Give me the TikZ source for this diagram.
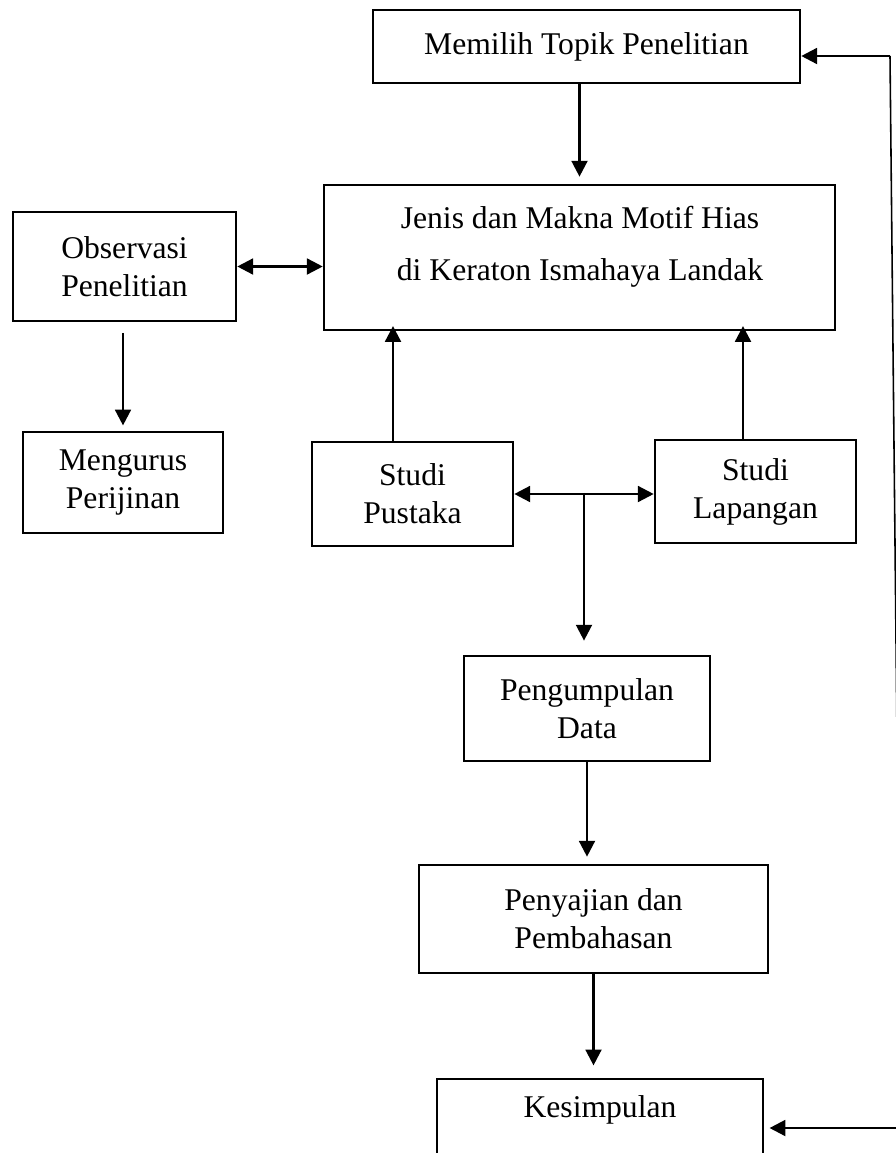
\documentclass[tikz,border=0pt]{standalone}
\usepackage{fontspec}
\setmainfont{Liberation Serif}
\usetikzlibrary{arrows.meta, calc, positioning}

\begin{document}
\begin{tikzpicture}[x=0.02cm, y=-0.02cm, >={Triangle[length=9pt, width=9pt]},
    box/.style={draw, line width=1.5pt, align=center, inner sep=0pt, font=\fontsize{18}{21.6}\selectfont},
    teks/.style={align=center, inner sep=0pt, font=\fontsize{18}{21.6}\selectfont},
    flow/.style={->, line width=1.4pt}]
    \clip (0,0) rectangle (896,1153);

    % Topik dan fokus penelitian
    \node[box, minimum width=8.54cm, minimum height=1.46cm] (memilih) at (586.5,46.5) {Memilih Topik Penelitian};
    \node[box, minimum width=10.22cm, minimum height=2.9cm] (jenis) at (579.5,257.5) {};
    \node[teks] (jenistext) at (580,247) {Jenis dan Makna Motif Hias\\[8pt] di Keraton Ismahaya Landak};

    % Persiapan
    \node[box, minimum width=4.46cm, minimum height=2.18cm] (observasi) at (124.5,266.5) {Observasi\\Penelitian};
    \node[box, minimum width=4cm, minimum height=2.02cm] (mengurus) at (123,482.5) {Mengurus\\Perijinan};

    % Studi
    \node[box, minimum width=4.02cm, minimum height=2.08cm] (pustaka) at (412.5,494) {Studi\\Pustaka};
    \node[box, minimum width=4.02cm, minimum height=2.06cm] (lapangan) at (755.5,491.5) {Studi\\Lapangan};

    % Tahap akhir
    \node[box, minimum width=4.92cm, minimum height=2.1cm] (pengumpulan) at (587,708.5) {Pengumpulan\\Data};
    \node[box, minimum width=6.98cm, minimum height=2.16cm] (penyajian) at (593.5,919) {Penyajian dan\\Pembahasan};
    \node[box, minimum width=6.52cm, minimum height=2cm] (kesimpulan) at (600,1129) {};
    \node[teks] (kesimpulantext) at (600,1110) {Kesimpulan};

    % Panah
    \draw[flow, shorten >=4pt] (memilih.south -| jenis.north) -- (jenis.north);
    \draw[<->, line width=1.4pt] (observasi.east) -- (observasi.east -| jenis.west);
    \draw[flow, shorten <=6pt, shorten >=3pt] (observasi.south -| mengurus.north) -- (mengurus.north);
    \draw[flow, shorten >=-3pt] ([xshift=-0.39cm]pustaka.north) -- ([xshift=-0.39cm]pustaka.north |- jenis.south);
    \draw[flow, shorten >=-3pt] ([xshift=-0.25cm]lapangan.north) -- ([xshift=-0.25cm]lapangan.north |- jenis.south);
    \draw[<->, line width=1.4pt] (pustaka.east) -- (pustaka.east -| lapangan.west);
    \coordinate (cabang) at ($(pustaka.east)!0.5!(lapangan.west)$);
    \draw[flow, shorten >=8pt] (cabang) -- (cabang |- pengumpulan.north);
    \draw[flow, shorten >=4pt] (pengumpulan.south) -- (pengumpulan.south |- penyajian.north);
    \draw[flow, shorten >=7pt] (penyajian.south) -- (penyajian.south |- kesimpulan.north);

    % Garis balik di kanan
    \coordinate (balikatas) at (890,56);
    \coordinate (balikbawah) at (901,1128);
    \draw[line width=0.9pt] (balikbawah) -- (balikatas);
    \draw[flow] (balikatas) -- (balikatas -| memilih.east);
    \draw[flow, shorten >=3pt] (balikbawah) -- (balikbawah -| kesimpulan.east);
\end{tikzpicture}
\end{document}
